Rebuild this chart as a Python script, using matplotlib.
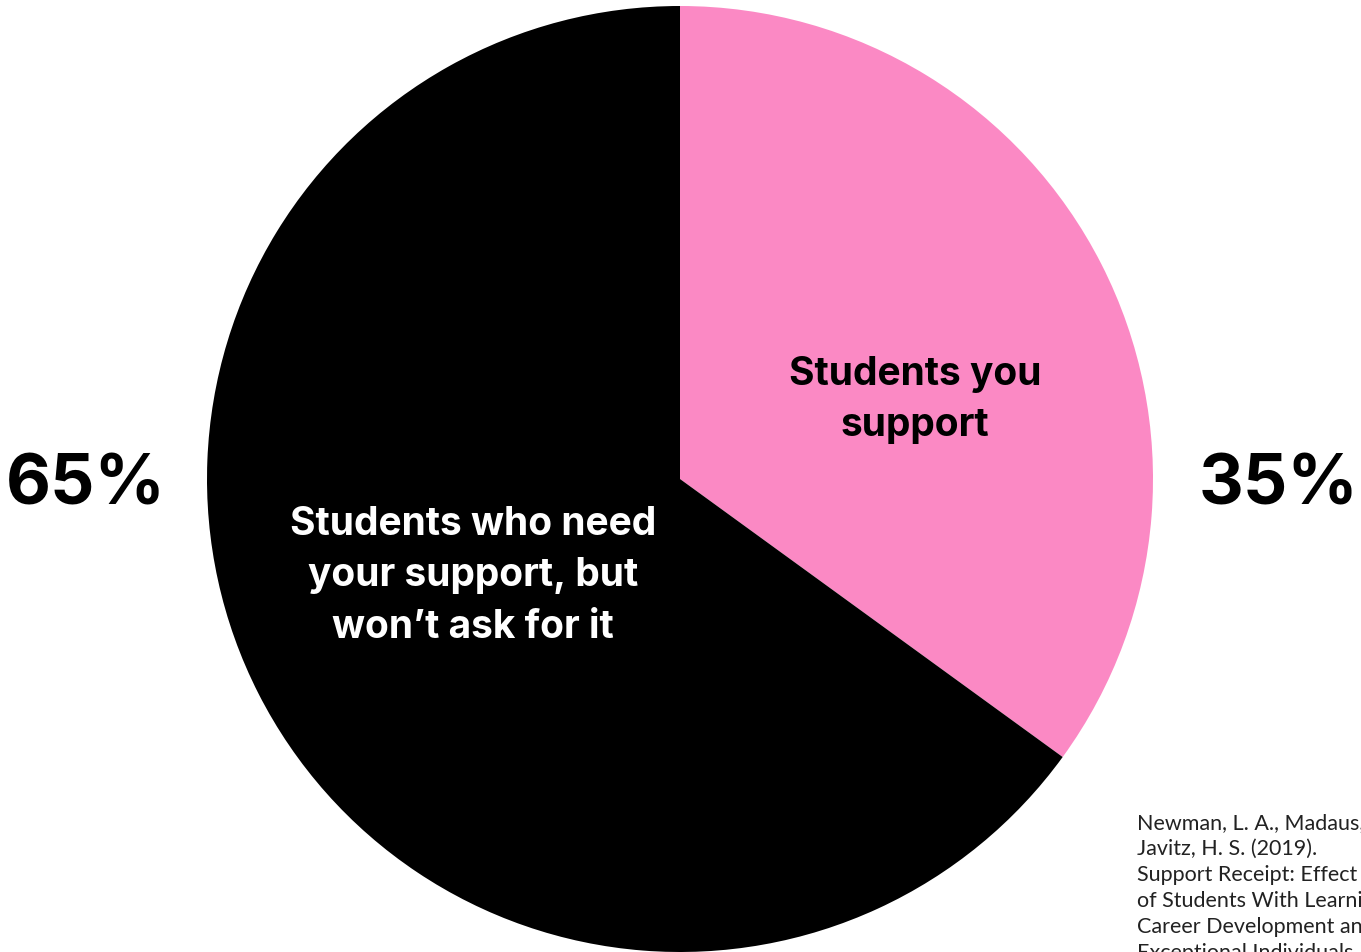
import matplotlib.pyplot as plt

# slice data, clockwise from 12 o'clock
shares = [35, 65]
slice_labels = ["Students you\nsupport", "Students who need\nyour support, but\nwon\u2019t ask for it"]
pct_labels = ["35%", "65%"]
slice_colors = ["#FB89C4", "#000000"]
label_colors = ["#000000", "#FFFFFF"]

citation = [
    "Newman, L. A., Madaus, J. W., Lalor, A. R., &",
    "Javitz, H. S. (2019).",
    "Support Receipt: Effect on Postsecondary Success",
    "of Students With Learning Disabilities.",
    "Career Development and Transition for",
    "Exceptional Individuals, 42(1), 6\u201316.",
]

W, H = 1361, 953
fig = plt.figure(figsize=(W / 100, H / 100), dpi=100)
ax = fig.add_axes([0, 0, 1, 1])


def py(y):
    # pixel rows counted from the top
    return H - y


cx, cy, r = 680, 480, 473
ax.pie(shares, colors=slice_colors, startangle=90, counterclock=False,
       center=(cx, py(cy)), radius=r, frame=True,
       wedgeprops=dict(linewidth=0))
ax.set_xlim(0, W)
ax.set_ylim(0, H)
ax.set_aspect("equal")
ax.axis("off")

bold = dict(family=["Inter", "DejaVu Sans"], fontweight="bold")

# labels inside the slices
ax.text(915, py(400), slice_labels[0], color=label_colors[0], fontsize=28,
        ha="center", va="center", linespacing=1.5, **bold)
ax.text(473, py(576), slice_labels[1], color=label_colors[1], fontsize=28,
        ha="center", va="center", linespacing=1.5, **bold)

# big percentages on either side
ax.text(1279, py(486), pct_labels[0], fontsize=50, ha="center", va="center", **bold)
ax.text(86, py(486), pct_labels[1], fontsize=50, ha="center", va="center", **bold)

# source note, runs off the right edge
for i, line in enumerate(citation):
    ax.text(1137, py(823 + i * 26), line, fontsize=15.5, family="Lato",
            color="#222222", ha="left", va="center", clip_on=False)

fig.savefig("out.png", dpi=100, facecolor="white")
